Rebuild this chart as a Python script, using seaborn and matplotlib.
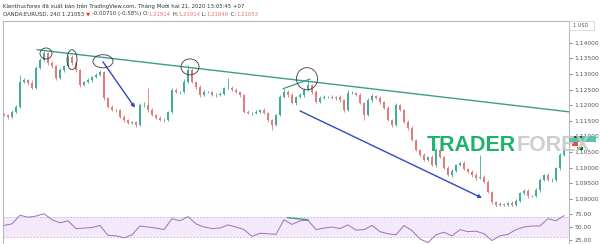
import numpy as np
import matplotlib
matplotlib.use("Agg")
import matplotlib.pyplot as plt
import seaborn as sns
from matplotlib.patches import Ellipse, Rectangle

# ---------------- data ----------------
closes = [
    1.1169, 1.1163, 1.1179, 1.1195, 1.1275, 1.1281, 1.1272, 1.1256, 1.1320, 1.1346,
    1.1368, 1.1336, 1.1326, 1.1288, 1.1313, 1.1326, 1.1355, 1.1336, 1.1313, 1.1265,
    1.1275, 1.1281, 1.1291, 1.1297, 1.1307, 1.1224, 1.1195, 1.1185, 1.1185, 1.1163,
    1.1153, 1.1144, 1.1147, 1.1137, 1.1201, 1.1201, 1.1185, 1.1169, 1.1160, 1.1153,
    1.1153, 1.1179, 1.1249, 1.1243, 1.1243, 1.1275, 1.1313, 1.1275, 1.1259, 1.1233,
    1.1243, 1.1243, 1.1233, 1.1233, 1.1237, 1.1256, 1.1256, 1.1249, 1.1243, 1.1233,
    1.1179, 1.1176, 1.1176, 1.1179, 1.1185, 1.1176, 1.1153, 1.1137, 1.1169, 1.1227,
    1.1243, 1.1233, 1.1208, 1.1227, 1.1233, 1.1249, 1.1265, 1.1243, 1.1211, 1.1224,
    1.1227, 1.1227, 1.1224, 1.1227, 1.1217, 1.1185, 1.1240, 1.1240, 1.1233, 1.1208,
    1.1169, 1.1217, 1.1230, 1.1224, 1.1211, 1.1192, 1.1153, 1.1137, 1.1201, 1.1185,
    1.1147, 1.1128, 1.1089, 1.1057, 1.1041, 1.1025, 1.1035, 1.1009, 1.1057, 1.1035,
    1.0999, 1.0977, 1.0990, 1.1009, 1.1015, 1.0996, 1.0987, 1.0977, 1.0967, 1.0971,
    1.0955, 1.0922, 1.0890, 1.0881, 1.0884, 1.0881, 1.0887, 1.0881, 1.0894, 1.0919,
    1.0926, 1.0910, 1.0910, 1.0929, 1.0961, 1.0977, 1.0961, 1.0961, 1.0999, 1.1041,
    1.1063,
]
first_open = 1.1172
up_wick_pips = [
    4, 3, 5, 6, 22, 5, 4, 8, 6, 7,
    5, 4, 6, 3, 5, 4, 7, 5, 6, 3,
    4, 5, 3, 6, 5, 4, 3, 5, 4, 3,
    5, 4, 3, 4, 6, 8, 55, 5, 3, 4,
    6, 4, 7, 5, 4, 8, 16, 6, 4, 5,
    7, 4, 3, 6, 5, 4, 32, 6, 5, 4,
    3, 5, 4, 6, 3, 5, 4, 3, 4, 6,
    8, 5, 7, 4, 6, 5, 16, 4, 5, 6,
    7, 4, 5, 3, 6, 4, 8, 5, 4, 6,
    3, 5, 7, 4, 5, 3, 6, 4, 5, 3,
    4, 6, 5, 4, 3, 5, 4, 6, 5, 3,
    4, 5, 6, 4, 3, 5, 4, 6, 5, 70,
    4, 5, 3, 4, 5, 3, 4, 5, 6, 4,
    7, 5, 4, 6, 5, 4, 5, 6, 4, 5,
    4,
]
down_wick_pips = [
    5, 6, 4, 3, 4, 5, 6, 4, 5, 3,
    4, 6, 5, 7, 4, 5, 3, 6, 5, 8,
    4, 3, 5, 4, 3, 6, 5, 4, 7, 5,
    6, 4, 5, 7, 4, 5, 6, 4, 5, 3,
    6, 5, 4, 3, 6, 4, 5, 4, 6, 5,
    4, 5, 3, 6, 4, 5, 3, 4, 5, 6,
    5, 4, 6, 3, 5, 4, 6, 16, 5, 4,
    3, 5, 4, 6, 3, 5, 4, 6, 5, 4,
    5, 3, 4, 6, 5, 6, 4, 5, 3, 5,
    16, 4, 5, 3, 6, 5, 4, 6, 5, 4,
    5, 6, 4, 5, 6, 4, 5, 4, 6, 5,
    4, 5, 6, 4, 5, 3, 4, 6, 5, 4,
    5, 4, 6, 7, 5, 6, 4, 7, 5, 4,
    5, 6, 4, 5, 6, 4, 5, 6, 4, 5,
    5,
]
# RSI sampled on every second bar
rsi_values = [
    53, 56, 72.5, 69, 71, 75.5, 64, 58, 62, 47,
    48, 49, 53, 34, 33, 29, 35, 52, 50, 48,
    45, 66, 62, 70, 56, 50, 47, 48, 54, 50,
    45, 32, 38, 37, 36, 64, 55, 62, 63, 45,
    48, 50, 47, 54, 44, 45, 53, 41, 37, 35,
    53, 43, 27, 20, 35, 40, 33, 45, 41, 42,
    37, 24, 33, 36, 45, 50, 52, 52, 66, 62,
    72,
]
rsi_step = 2
price_ticks = [1.09, 1.095, 1.10, 1.105, 1.11, 1.115, 1.12, 1.125, 1.13, 1.135, 1.14]
rsi_ticks = [25, 50, 75]
rsi_band = [30, 70]

# annotations (bar index, price)
resistance_x = [8.25, 141.25]
resistance_y = [1.1378, 1.1179]
short_line_x = [69.75, 76.5]
short_line_y = [1.1253, 1.1284]
arrow1 = [(24.75, 1.1339), (32.75, 1.1192)]
arrow2 = [(74.0, 1.1182), (119.5, 1.0903)]
ellipse_centers = [(10.5, 1.1366), (17.0, 1.1346), (24.75, 1.1341), (46.5, 1.1323), (75.75, 1.1285)]
ellipse_sizes = [(3.0, 0.0035), (2.5, 0.0064), (5.0, 0.0042), (4.5, 0.0051), (5.25, 0.0071)]
rsi_div_x = [70.75, 76.0]
rsi_div_y = [68, 64]

header1 = "Kienthucforex đã xuất bản trên TradingView.com, Tháng Mười hai 21, 2020 13:05:45 +07"
header2 = [("OANDA:EURUSD, 240 1.21053 ", "#333333"), ("▼", "#e53935"),
           (" -0.00710 (-0.58%) O:", "#333333"), ("1.21914", "#e57373"),
           (" H:", "#333333"), ("1.21914", "#e57373"), (" L:", "#333333"),
           ("1.21849", "#e57373"), (" C:", "#333333"), ("1.21053", "#e57373")]

# ---------------- style ----------------
sns.set_theme(style="white")
plt.rcParams['font.family'] = ['DejaVu Sans']

UP = "#3fae97"
DOWN = "#e57b78"
W, H = 600, 244

fig = plt.figure(figsize=(6, 2.44), dpi=100)
fig.patch.set_facecolor("white")


def fx(px):
    return px / W


def fy(py):
    return 1 - py / H


left_px, right_px, top_px, sep_px = 3, 569, 21, 207
ax = fig.add_axes([fx(left_px), fy(sep_px), fx(right_px - left_px), (sep_px - top_px) / H])
axr = fig.add_axes([fx(left_px), 0, fx(right_px - left_px), (H - sep_px) / H], sharex=ax)

# candles
c = np.array(closes)
o = np.array([first_open] + closes[:-1])
hi = np.maximum(o, c) + np.array(up_wick_pips) * 0.0001
lo = np.minimum(o, c) - np.array(down_wick_pips) * 0.0001
idx = np.arange(len(c))
cols = [UP if cc >= oo else DOWN for oo, cc in zip(o, c)]
ax.vlines(idx, lo, hi, colors=cols, lw=0.6, zorder=2)
body = np.maximum(np.abs(c - o), 0.00008)
ax.bar(idx, body, bottom=np.minimum(o, c), width=0.6, color=cols, linewidth=0, zorder=3)

# trendlines
sns.lineplot(x=resistance_x, y=resistance_y, ax=ax, color="#3a9e86", lw=1.0, zorder=4)
sns.lineplot(x=short_line_x, y=short_line_y, ax=ax, color="#3a9e86", lw=0.9, zorder=4)
for (x0, y0), (x1, y1) in [arrow1, arrow2]:
    ax.annotate("", xy=(x1, y1), xytext=(x0, y0),
                arrowprops=dict(arrowstyle="-|>", color="#3447c4", lw=1.0,
                                mutation_scale=5, shrinkA=0, shrinkB=0), zorder=4)
for (cx, cy), (ew, eh) in zip(ellipse_centers, ellipse_sizes):
    ax.add_patch(Ellipse((cx, cy), ew, eh, fill=False, ec="#3a3a3a", lw=0.6, zorder=5))

ax.set_xlim(-0.25, 141.25)
ax.set_ylim(1.0874, 1.1470)
ax.yaxis.tick_right()
ax.set_yticks(price_ticks)
ax.set_yticklabels([f"{v:.5f}" for v in price_ticks])
ax.tick_params(axis="y", labelsize=4.3, colors="#555555", length=2, width=0.5, pad=2,
               right=True, left=False)
ax.tick_params(axis="x", bottom=False, labelbottom=False)
ax.set_xlabel("")
ax.set_ylabel("")
for s in ["left", "top", "right", "bottom"]:
    ax.spines[s].set_color("#b8b8b8")
    ax.spines[s].set_linewidth(0.8)

# RSI panel
axr.axhspan(rsi_band[0], rsi_band[1], color="#f4e9fb", zorder=0, lw=0)
for v in rsi_band:
    axr.axhline(v, color="#c8b0d8", lw=0.6, ls=(0, (2, 2)), zorder=1)
rsi_x = idx[::rsi_step][:len(rsi_values)]
sns.lineplot(x=rsi_x, y=rsi_values, ax=axr, color="#9a72b4", lw=0.7, zorder=3)
sns.lineplot(x=rsi_div_x, y=rsi_div_y, ax=axr, color="#3a9e86", lw=1.0, zorder=4)
axr.set_ylim(17.3, 88.5)
axr.yaxis.tick_right()
axr.set_yticks(rsi_ticks)
axr.set_yticklabels([f"{v:.2f}" for v in rsi_ticks])
axr.tick_params(axis="y", labelsize=4.3, colors="#555555", length=2, width=0.5, pad=2,
                right=True, left=False)
axr.tick_params(axis="x", bottom=False, labelbottom=False)
axr.set_xlabel("")
axr.set_ylabel("")
for s in ["left", "right"]:
    axr.spines[s].set_color("#b8b8b8")
    axr.spines[s].set_linewidth(0.8)
axr.spines["top"].set_visible(False)
axr.spines["bottom"].set_visible(False)

# header text
fig.text(fx(3), fy(6), header1, fontsize=3.9, color="#333333", va="center", ha="left")
renderer = fig.canvas.get_renderer()
xpos = fx(3)
for txt, col in header2:
    t = fig.text(xpos, fy(14), txt, fontsize=3.9, color=col, va="center", ha="left")
    bb = t.get_window_extent(renderer=renderer)
    xpos = bb.x1 / fig.dpi / 6.0

# "1 USD" label
fig.text(fx(581), fy(25.5), "1 USD", fontsize=3.6, color="#555555", va="center", ha="center")
fig.add_artist(Rectangle((fx(569), fy(30)), fx(25), 9 / H, transform=fig.transFigure,
                         fill=False, ec="#cccccc", lw=0.5))

# last price marker
fig.add_artist(Rectangle((fx(569), fy(142)), fx(27), 6 / H, transform=fig.transFigure,
                         color="#56c2b0", lw=0, zorder=6))
fig.add_artist(Rectangle((fx(573), fy(138)), fx(9), 2.5 / H, transform=fig.transFigure,
                         color="#0d6b1c", lw=0, zorder=7))
fig.add_artist(Rectangle((fx(572), fy(145.5)), fx(6), 3.5 / H, transform=fig.transFigure,
                         color="#f04848", lw=0, zorder=7))
fig.add_artist(Rectangle((fx(577), fy(149.5)), fx(6), 2.5 / H, transform=fig.transFigure,
                         color="#0d6b1c", lw=0, zorder=7))

# watermark
t1 = fig.text(fx(427), fy(145.5), "TRADER", fontsize=15.5, fontweight="bold",
              family="Liberation Sans", color="#1fb26b", va="center", ha="left", zorder=8)
bb = t1.get_window_extent(renderer=renderer)
fig.text(bb.x1 / fig.dpi / 6.0, fy(145.5), "FOREX", fontsize=15.5, fontweight="bold",
         family="Liberation Sans", color="#c9c9c9", alpha=0.9, va="center", ha="left", zorder=8)

fig.savefig("out.png", dpi=100, facecolor="white")
